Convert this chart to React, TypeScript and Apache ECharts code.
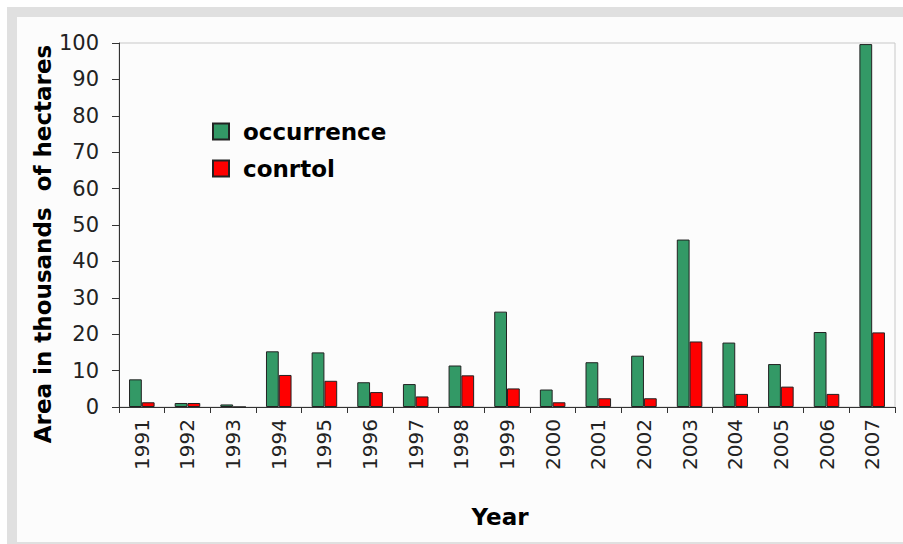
import React, { useEffect, useRef } from "react";
import * as echarts from "echarts";

const years = ["1991","1992","1993","1994","1995","1996","1997","1998","1999","2000","2001","2002","2003","2004","2005","2006","2007"];
const occurrence = [7.6, 1.1, 0.7, 15.3, 15.0, 6.8, 6.3, 11.4, 26.2, 4.8, 12.3, 14.1, 46.0, 17.7, 11.8, 20.6, 99.7];
const control = [1.3, 1.1, 0, 8.8, 7.2, 4.1, 2.9, 8.7, 5.1, 1.3, 2.4, 2.4, 18.0, 3.6, 5.6, 3.6, 20.5];
const seriesNames = ["occurrence", "conrtol"];
const yTitle = "Area in thousands  of hectares";
const xTitle = "Year";

const FONT = "DejaVu Sans";

export default function App() {
  const ref = useRef<HTMLDivElement>(null);
  useEffect(() => {
    document.body.style.margin = "0";
    if (!ref.current) return;
    const chart = echarts.init(ref.current, null, { renderer: "svg" });
    chart.setOption({
      animation: false,
      backgroundColor: "transparent",
      grid: {
        left: 119,
        right: 8,
        top: 43,
        bottom: 137,
        show: true,
        borderColor: "#c8c8c8",
        borderWidth: 1,
        backgroundColor: "transparent",
      },
      legend: {
        data: seriesNames,
        orient: "vertical",
        left: 212,
        top: 120,
        padding: 0,
        itemWidth: 16,
        itemHeight: 16,
        itemGap: 14,
        icon: "rect",
        textStyle: {
          fontFamily: FONT,
          fontWeight: "bold",
          fontSize: 23,
          color: "#000",
          padding: [0, 0, 0, 9],
        },
      },
      xAxis: {
        type: "category",
        data: years,
        axisLine: { lineStyle: { color: "#333", width: 1 } },
        axisTick: { show: true, length: 6, alignWithLabel: false, lineStyle: { color: "#333" } },
        axisLabel: {
          rotate: 90,
          interval: 0,
          margin: 12,
          fontFamily: FONT,
          fontSize: 20,
          color: "#222",
        },
      },
      yAxis: {
        type: "value",
        min: 0,
        max: 100,
        interval: 10,
        splitLine: { show: false },
        axisLine: { show: true, lineStyle: { color: "#333", width: 1 } },
        axisTick: { show: true, length: 7, lineStyle: { color: "#333" } },
        axisLabel: {
          margin: 20,
          fontFamily: FONT,
          fontSize: 21,
          color: "#222",
        },
      },
      graphic: [
        {
          type: "text",
          x: 43,
          y: 244,
          rotation: Math.PI / 2,
          style: {
            text: yTitle,
            align: "center",
            verticalAlign: "middle",
            fontFamily: FONT,
            fontWeight: "bold",
            fontSize: 23,
            fill: "#000",
          },
        },
        {
          type: "text",
          x: 500,
          y: 517,
          style: {
            text: xTitle,
            align: "center",
            verticalAlign: "middle",
            fontFamily: FONT,
            fontWeight: "bold",
            fontSize: 23,
            fill: "#000",
          },
        },
      ],
      series: [
        {
          name: seriesNames[0],
          type: "bar",
          data: occurrence,
          barWidth: "28%",
          barGap: "0%",
          itemStyle: { color: "#339966", borderColor: "#222", borderWidth: 1 },
        },
        {
          name: seriesNames[1],
          type: "bar",
          data: control,
          barWidth: "28%",
          itemStyle: { color: "#ff0000", borderColor: "#222", borderWidth: 1 },
        },
      ],
    });
    return () => chart.dispose();
  }, []);

  return (
    <div style={{ position: "relative", width: 903, height: 544, background: "#fff", overflow: "hidden" }}>
      <div style={{ position: "absolute", left: 7, top: 7, width: 896, height: 537, background: "#e0e0e0" }} />
      <div style={{ position: "absolute", left: 17, top: 17, width: 886, height: 525, background: "#fcfcfc" }} />
      <div ref={ref} style={{ position: "absolute", left: 0, top: 0, width: 903, height: 544 }} />
    </div>
  );
}
